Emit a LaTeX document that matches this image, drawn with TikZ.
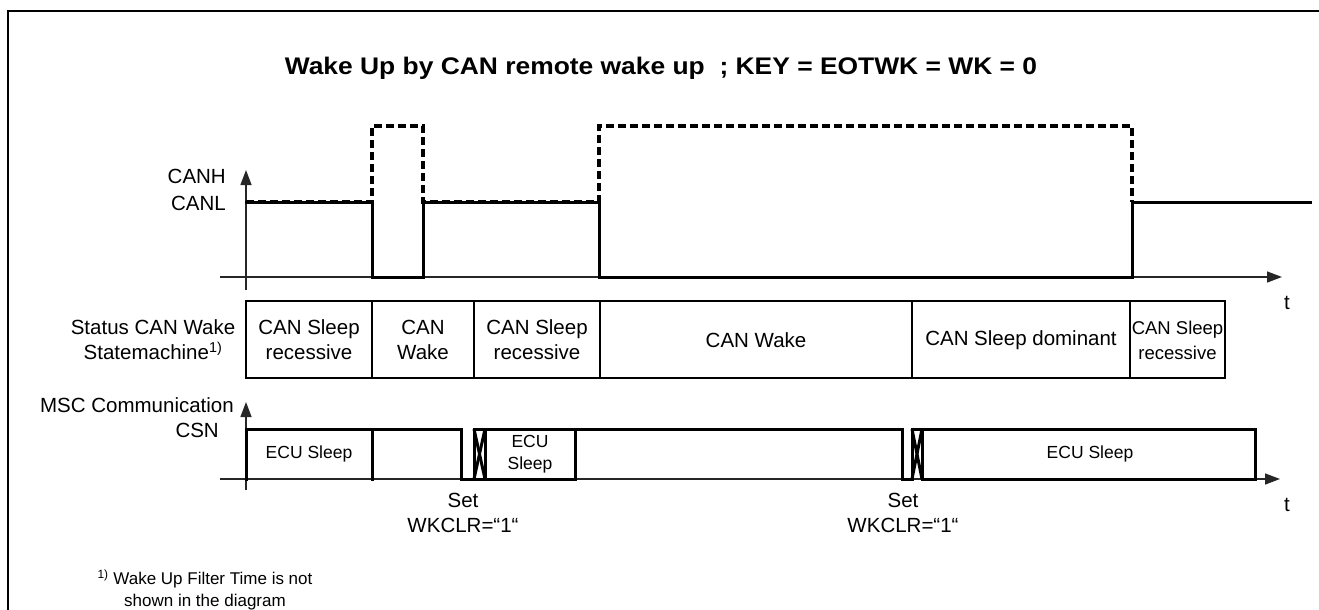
\documentclass[tikz,border=0pt]{standalone}
\usepackage{fontspec}
\setmainfont{Liberation Sans}
\usetikzlibrary{arrows.meta}
\begin{document}
\begin{tikzpicture}[x=1pt,y=-1pt,
  axis/.style={line width=1.4pt, draw=black!85},
  arr/.style={-{Triangle[length=15pt,width=11pt]}},
  sig/.style={line width=3pt, line join=miter, line cap=rect},
  xsig/.style={line width=3pt, line join=bevel, line cap=butt},
  dsig/.style={line width=3.8pt, dash pattern=on 8pt off 4pt},
  boxline/.style={line width=1.4pt},
  lbl/.style={font=\fontsize{20.5}{25}\selectfont, align=center, inner sep=0pt},
  small/.style={font=\fontsize{17.5}{22}\selectfont, align=center, inner sep=0pt},
  foot/.style={font=\fontsize{17}{22}\selectfont, align=center, inner sep=0pt}]
\useasboundingbox (0,0) rectangle (1319,610);
% frame
\draw[line width=2pt] (8,610) -- (8,11) -- (1319,11);
% title
\node[inner sep=0pt] (title) at (661,68) {\scalebox{1.1}[1]{\fontsize{24}{28}\selectfont\bfseries Wake Up by CAN remote wake up\ \ ; KEY = EOTWK = WK = 0}};
% ---------- CAN bus axis ----------
\coordinate (a1b) at (246,290);
\coordinate (a1t) at (246,170);
\coordinate (a1l) at (220,277);
\coordinate (a1r) at (1282,277);
\draw[axis,arr] (a1b) -- (a1t);
\draw[axis,arr] (a1l) -- (a1r);
\node[lbl, anchor=east] (canh) at (226,176) {CANH};
\node[lbl, anchor=east] (canl) at (226,203) {CANL};
\node[lbl] (t1) at (1287,303) {t};
% CANL solid
\draw[sig] (246,202) -- (372,202) -- (372,277) -- (423,277) -- (423,202) -- (599,202) -- (599,277) -- (1132,277) -- (1132,202) -- (1310,202);
% CANH dashed
\draw[dsig] (246,202) -- (372,202) -- (372,126) -- (423,126) -- (423,202) -- (599,202) -- (599,126) -- (1132,126) -- (1132,202);
% ---------- state machine row ----------
\node[lbl] (smlbl) at (153,340) {Status CAN Wake\\Statemachine\textsuperscript{1)}};
\draw[boxline] (246,301) rectangle (1225,378);
\foreach \xx in {372,474,600,912,1130} \draw[boxline] (\xx,301) -- (\xx,378);
\node[lbl] (s1) at (309,340) {CAN Sleep\\recessive};
\node[lbl] (s2) at (423,340) {CAN\\Wake};
\node[lbl] (s3) at (537,340) {CAN Sleep\\recessive};
\node[lbl] (s4) at (756,340) {CAN Wake};
\node[lbl] (s5) at (1021,340) {CAN Sleep dominant};
\node[lbl, font=\fontsize{18.5}{25}\selectfont] (s6) at (1177.5,340) {CAN Sleep\\recessive};
% ---------- MSC axis ----------
\coordinate (a2b) at (246,490);
\coordinate (a2t) at (246,402);
\coordinate (a2l) at (220,479);
\coordinate (a2r) at (1280,479);
\draw[axis,arr] (a2b) -- (a2t);
\draw[axis,arr] (a2l) -- (a2r);
\node[lbl, anchor=east] (msc) at (234,405) {MSC Communication};
\node[lbl, anchor=east] (csn) at (219,430) {CSN};
\node[lbl] (t2) at (1287,505) {t};
% MSC signal
\draw[sig] (246,479) -- (246,429) -- (461,429) -- (461,479) -- (474,479) -- (474,429) -- (902,429) -- (902,479) -- (912,479) -- (912,429) -- (1255,429) -- (1255,479) -- (922,479) -- (922,429);
\draw[sig] (372,429) -- (372,479);
\draw[sig] (485,429) -- (485,479) -- (575,479) -- (575,429);
\draw[sig] (474,479) -- (485,479);
\draw[xsig] (474,429) -- (485,479);
\draw[xsig] (474,479) -- (485,429);
\draw[xsig] (912,429) -- (922,479);
\draw[xsig] (912,479) -- (922,429);
\node[small] (e1) at (309,454) {ECU Sleep};
\node[small] (e2) at (530,454) {ECU\\Sleep};
\node[small] (e3) at (1090,454) {ECU Sleep};
% set labels
\node[lbl] (set1) at (463,513) {Set\\WKCLR=“1“};
\node[lbl] (set2) at (903,513) {Set\\WKCLR=“1“};
% footnote
\node[foot] (fn) at (205,590) {\textsuperscript{1)} Wake Up Filter Time is not\\shown in the diagram};
\end{tikzpicture}
\end{document}
